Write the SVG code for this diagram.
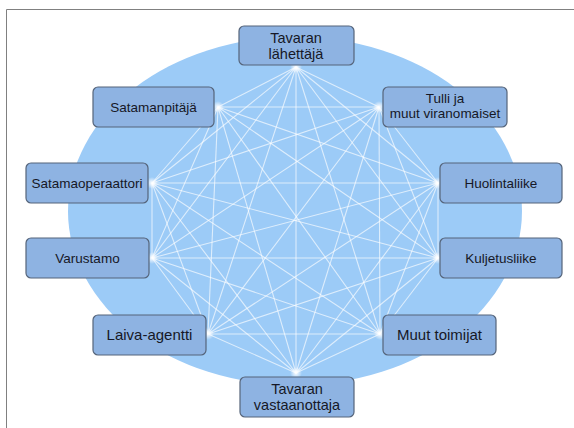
<svg xmlns="http://www.w3.org/2000/svg" width="574" height="428" viewBox="0 0 574 428">
<defs>
<radialGradient id="glow">
<stop offset="0" stop-color="#ffffff" stop-opacity="1"/>
<stop offset="1" stop-color="#ffffff" stop-opacity="0"/>
</radialGradient>
</defs>
<style>
.box{fill:#8eb3e2;stroke:#55647a;stroke-width:1.2}
.t{font-family:"Liberation Sans",Arial,sans-serif;fill:#161826;text-anchor:middle;font-size:13.5px}
.big{font-size:14.5px}
.lines line{stroke:#ffffff;stroke-opacity:0.65;stroke-width:1.1}
.frame{stroke:#808080;stroke-width:1;fill:none}
</style>
<rect width="574" height="428" fill="#ffffff"/>
<path class="frame" d="M574 9.5 H6.5 V428"/>
<ellipse cx="295" cy="211" rx="227" ry="174" fill="#9ccbf7"/>
<g id="connectors" class="lines">
<line x1="296" y1="67" x2="218" y2="107"/><line x1="296" y1="67" x2="379" y2="107"/><line x1="296" y1="67" x2="152" y2="183"/><line x1="296" y1="67" x2="438" y2="183"/><line x1="296" y1="67" x2="152" y2="258"/><line x1="296" y1="67" x2="438" y2="258"/><line x1="296" y1="67" x2="208" y2="334"/><line x1="296" y1="67" x2="380" y2="334"/><line x1="296" y1="67" x2="296" y2="373"/>
<line x1="218" y1="107" x2="379" y2="107"/><line x1="218" y1="107" x2="152" y2="183"/><line x1="218" y1="107" x2="438" y2="183"/><line x1="218" y1="107" x2="152" y2="258"/><line x1="218" y1="107" x2="438" y2="258"/><line x1="218" y1="107" x2="208" y2="334"/><line x1="218" y1="107" x2="380" y2="334"/><line x1="218" y1="107" x2="296" y2="373"/>
<line x1="379" y1="107" x2="152" y2="183"/><line x1="379" y1="107" x2="438" y2="183"/><line x1="379" y1="107" x2="152" y2="258"/><line x1="379" y1="107" x2="438" y2="258"/><line x1="379" y1="107" x2="208" y2="334"/><line x1="379" y1="107" x2="380" y2="334"/><line x1="379" y1="107" x2="296" y2="373"/>
<line x1="152" y1="183" x2="438" y2="183"/><line x1="152" y1="183" x2="152" y2="258"/><line x1="152" y1="183" x2="438" y2="258"/><line x1="152" y1="183" x2="208" y2="334"/><line x1="152" y1="183" x2="380" y2="334"/><line x1="152" y1="183" x2="296" y2="373"/>
<line x1="438" y1="183" x2="152" y2="258"/><line x1="438" y1="183" x2="438" y2="258"/><line x1="438" y1="183" x2="208" y2="334"/><line x1="438" y1="183" x2="380" y2="334"/><line x1="438" y1="183" x2="296" y2="373"/>
<line x1="152" y1="258" x2="438" y2="258"/><line x1="152" y1="258" x2="208" y2="334"/><line x1="152" y1="258" x2="380" y2="334"/><line x1="152" y1="258" x2="296" y2="373"/>
<line x1="438" y1="258" x2="208" y2="334"/><line x1="438" y1="258" x2="380" y2="334"/><line x1="438" y1="258" x2="296" y2="373"/>
<line x1="208" y1="334" x2="380" y2="334"/><line x1="208" y1="334" x2="296" y2="373"/>
<line x1="380" y1="334" x2="296" y2="373"/>
<g fill="url(#glow)">
<circle cx="296" cy="67" r="6"/><circle cx="218" cy="107" r="6"/><circle cx="379" cy="107" r="6"/><circle cx="152" cy="183" r="6"/><circle cx="438" cy="183" r="6"/><circle cx="152" cy="258" r="6"/><circle cx="438" cy="258" r="6"/><circle cx="208" cy="334" r="6"/><circle cx="380" cy="334" r="6"/><circle cx="296" cy="373" r="6"/>
</g>
</g>
<g id="n-lahettaja"><rect class="box" x="239" y="26" width="115" height="39" rx="5"/><text class="t big" x="296" y="43">Tavaran</text><text class="t big" x="296" y="59">lähettäjä</text></g>
<g id="n-satamanpitaja"><rect class="box" x="93" y="87" width="121" height="40" rx="5"/><text class="t" x="153.5" y="112">Satamanpitäjä</text></g>
<g id="n-tulli"><rect class="box" x="383" y="87" width="124" height="40" rx="5"/><text class="t" x="445" y="103">Tulli ja</text><text class="t" x="445" y="118">muut viranomaiset</text></g>
<g id="n-satamaoperaattori"><rect class="box" x="26" y="163" width="122" height="40" rx="5"/><text class="t" x="87" y="188">Satamaoperaattori</text></g>
<g id="n-huolintaliike"><rect class="box" x="440" y="163" width="122" height="40" rx="5"/><text class="t" x="501" y="188">Huolintaliike</text></g>
<g id="n-varustamo"><rect class="box" x="26" y="238" width="123" height="40" rx="5"/><text class="t" x="87.5" y="263">Varustamo</text></g>
<g id="n-kuljetusliike"><rect class="box" x="440" y="238" width="122" height="40" rx="5"/><text class="t" x="501" y="263">Kuljetusliike</text></g>
<g id="n-laiva-agentti"><rect class="box" x="93" y="315" width="113" height="40" rx="5"/><text class="t" x="149.5" y="340" style="font-size:15px">Laiva-agentti</text></g>
<g id="n-muut"><rect class="box" x="383" y="315" width="113" height="40" rx="5"/><text class="t" x="439.5" y="340" style="font-size:15px">Muut toimijat</text></g>
<g id="n-vastaanottaja"><rect class="box" x="240" y="377" width="114" height="40" rx="5"/><text class="t big" x="297" y="394">Tavaran</text><text class="t big" x="297" y="410">vastaanottaja</text></g>
</svg>
